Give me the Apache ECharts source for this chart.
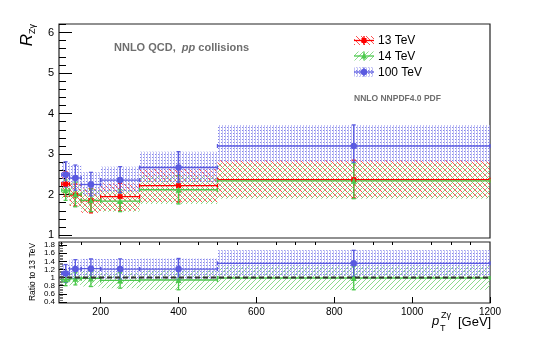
<!DOCTYPE html>
<html>
<head>
<meta charset="utf-8">
<script src="https://cdn.jsdelivr.net/npm/echarts@6/dist/echarts.min.js"></script>
<style>
html, body { margin: 0; padding: 0; background: #fff; }
#main { width: 545px; height: 346px; }
</style>
</head>
<body>
<div id="main"></div>
<script>
// pT bins [GeV]
var binLo = [100, 120, 150, 200, 300, 500];
var binHi = [120, 150, 200, 300, 500, 1200];
var binMid = [110, 135, 175, 250, 400, 850];

// R_Zgamma, NNLO
var r13 = [2.26, 1.99, 1.85, 1.95, 2.22, 2.37];
var r13Up = [0.30, 0.27, 0.30, 0.33, 0.42, 0.48];
var r13Dn = [0.30, 0.27, 0.30, 0.35, 0.40, 0.45];
var r14 = [2.11, 2.01, 1.86, 1.84, 2.12, 2.34];
var r14Up = [0.25, 0.30, 0.28, 0.28, 0.35, 0.44];
var r14Dn = [0.25, 0.31, 0.28, 0.26, 0.35, 0.44];
var r100 = [2.49, 2.41, 2.25, 2.36, 2.67, 3.20];
var r100Up = [0.32, 0.32, 0.30, 0.33, 0.39, 0.52];
var r100Dn = [0.30, 0.30, 0.28, 0.31, 0.36, 0.40];

// ratio to 13 TeV
var q14 = [0.95, 0.97, 0.98, 0.93, 0.94, 0.99];
var q14Err = [0.15, 0.15, 0.20, 0.19, 0.24, 0.29];
var q100 = [1.10, 1.21, 1.22, 1.21, 1.21, 1.35];
var q100Err = [0.22, 0.23, 0.24, 0.25, 0.26, 0.32];

// axis ticks
var xTicks = [200, 400, 600, 800, 1000, 1200];
var yTicksTop = [1, 2, 3, 4, 5, 6];
var yTicksRatio = [0.4, 0.6, 0.8, 1, 1.2, 1.4, 1.6, 1.8];

var xMin = 93, xMax = 1200;
var FONT = '"Liberation Sans", Arial, Helvetica, sans-serif';

var RED = '#ff0000', GREEN = '#4cc94c', BLUE = '#5a5ae0';

// minor ticks
var xMinor = [];
for (var v = 100; v < 1200; v += 50) if (v % 200 != 0) xMinor.push(v);
var yMinorTop = [];
for (var k = 5; k <= 31; k++) if (k % 5 != 0) yMinorTop.push(k / 5);
var yMinorRatio = [];
for (var k = 10; k <= 46; k++) if (k % 5 != 0) yMinorRatio.push(k / 25);

// hatch patterns
function hatch(color, dir) {
  var c = document.createElement('canvas');
  c.width = 5; c.height = 5;
  var g = c.getContext('2d');
  g.strokeStyle = color; g.lineWidth = 1;
  g.beginPath();
  if (dir > 0) {
    g.moveTo(0, 5); g.lineTo(5, 0);
    g.moveTo(-1, 1); g.lineTo(1, -1);
    g.moveTo(4, 6); g.lineTo(6, 4);
  } else {
    g.moveTo(0, 0); g.lineTo(5, 5);
    g.moveTo(4, -1); g.lineTo(6, 1);
    g.moveTo(-1, 4); g.lineTo(1, 6);
  }
  g.stroke();
  return { image: c, repeat: 'repeat' };
}
function dots() {
  var c = document.createElement('canvas');
  c.width = 3; c.height = 3;
  var g = c.getContext('2d');
  g.fillStyle = 'rgba(165,165,240,0.7)';
  g.fillRect(0, 0, 1, 3);
  g.fillStyle = 'rgba(100,100,230,0.8)';
  g.fillRect(2, 1, 1, 1);
  return { image: c, repeat: 'repeat' };
}
var patRed = hatch('rgba(255,50,50,0.85)', -1);
var patGreen = hatch('rgba(110,210,110,0.8)', 1);
var patBlue = dots();

function bandSeries(ax, val, up, dn, pat) {
  return {
    type: 'custom', xAxisIndex: ax, yAxisIndex: ax == 0 ? 0 : 2, silent: true,
    data: binLo.map(function (b, i) { return [binLo[i], binHi[i], val[i] - dn[i], val[i] + up[i]]; }),
    renderItem: function (params, api) {
      var p0 = api.coord([api.value(0), api.value(3)]);
      var p1 = api.coord([api.value(1), api.value(2)]);
      return { type: 'rect', shape: { x: p0[0], y: p0[1], width: p1[0] - p0[0], height: p1[1] - p0[1] }, style: { fill: pat } };
    }
  };
}

function errSeries(ax, val, up, dn, color) {
  return {
    type: 'custom', xAxisIndex: ax, yAxisIndex: ax == 0 ? 0 : 2, silent: true,
    data: binLo.map(function (b, i) { return [binLo[i], binHi[i], binMid[i], val[i], val[i] - dn[i], val[i] + up[i]]; }),
    renderItem: function (params, api) {
      var a = api.coord([api.value(0), api.value(3)]);
      var b = api.coord([api.value(1), api.value(3)]);
      var lo = api.coord([api.value(2), api.value(4)]);
      var hi = api.coord([api.value(2), api.value(5)]);
      var st = { stroke: color, lineWidth: 1.3 };
      function ln(x1, y1, x2, y2) { return { type: 'line', shape: { x1: x1, y1: y1, x2: x2, y2: y2 }, style: st }; }
      return {
        type: 'group', children: [
          ln(a[0], a[1], b[0], b[1]),
          ln(a[0], a[1] - 2, a[0], a[1] + 2),
          ln(b[0], b[1] - 2, b[0], b[1] + 2),
          ln(lo[0], lo[1], hi[0], hi[1]),
          ln(lo[0] - 2, lo[1], lo[0] + 2, lo[1]),
          ln(hi[0] - 2, hi[1], hi[0] + 2, hi[1])
        ]
      };
    }
  };
}

function markers(ax, val, symbol, size, color) {
  return {
    type: 'scatter', xAxisIndex: ax, yAxisIndex: ax == 0 ? 0 : 2, silent: true,
    symbol: symbol, symbolSize: size, itemStyle: { color: color, opacity: 1 },
    data: binMid.map(function (x, i) { return [x, val[i]]; })
  };
}

function plain(v) { return String(v); }

var myChart = echarts.init(document.getElementById('main'), null, { renderer: 'canvas' });

var option = {
  animation: false,
  backgroundColor: '#fff',
  grid: [
    { left: 59, top: 24, width: 431, height: 214, show: true, borderColor: '#222', borderWidth: 1.2, backgroundColor: 'transparent' },
    { left: 59, top: 242, width: 431, height: 61, show: true, borderColor: '#222', borderWidth: 1.2, backgroundColor: 'transparent' }
  ],
  xAxis: [
    { gridIndex: 0, type: 'value', min: xMin, max: xMax, axisLine: { show: false }, axisTick: { show: false }, axisLabel: { show: false }, splitLine: { show: false } },
    {
      gridIndex: 1, type: 'value', min: xMin, max: xMax, axisLine: { show: false }, splitLine: { show: false },
      axisTick: { inside: true, length: 6, customValues: xTicks, lineStyle: { color: '#000' } },
      axisLabel: { customValues: xTicks, formatter: plain, fontSize: 10, margin: 4, color: '#000', fontFamily: FONT }
    },
    {
      gridIndex: 1, type: 'value', min: xMin, max: xMax, axisLine: { show: false }, splitLine: { show: false },
      axisTick: { inside: true, length: 3, customValues: xMinor, lineStyle: { color: '#000' } },
      axisLabel: { show: false }
    }
  ],
  yAxis: [
    {
      gridIndex: 0, type: 'value', min: 0.93, max: 6.21, axisLine: { show: false }, splitLine: { show: false },
      axisTick: { inside: true, length: 13, customValues: yTicksTop, lineStyle: { color: '#000' } },
      axisLabel: { customValues: yTicksTop, formatter: plain, fontSize: 11, margin: 5, color: '#000', fontFamily: FONT }
    },
    {
      gridIndex: 0, type: 'value', position: 'left', min: 0.93, max: 6.21, axisLine: { show: false }, splitLine: { show: false },
      axisTick: { inside: true, length: 7, customValues: yMinorTop, lineStyle: { color: '#000' } },
      axisLabel: { show: false }
    },
    {
      gridIndex: 1, type: 'value', min: 0.375, max: 1.875, axisLine: { show: false }, splitLine: { show: false },
      axisTick: { inside: true, length: 8, customValues: yTicksRatio, lineStyle: { color: '#000' } },
      axisLabel: { customValues: yTicksRatio, formatter: plain, fontSize: 8, margin: 4, color: '#000', fontFamily: FONT }
    },
    {
      gridIndex: 1, type: 'value', position: 'left', min: 0.375, max: 1.875, axisLine: { show: false }, splitLine: { show: false },
      axisTick: { inside: true, length: 4, customValues: yMinorRatio, lineStyle: { color: '#777' } },
      axisLabel: { show: false }
    }
  ],
  series: [
    bandSeries(0, r13, r13Up, r13Dn, patRed),
    bandSeries(0, r14, r14Up, r14Dn, patGreen),
    bandSeries(0, r100, r100Up, r100Dn, patBlue),
    errSeries(0, r13, r13Up, r13Dn, RED),
    errSeries(0, r14, r14Up, r14Dn, GREEN),
    errSeries(0, r100, r100Up, r100Dn, BLUE),
    markers(0, r13, 'rect', 5, RED),
    markers(0, r14, 'triangle', 6, GREEN),
    markers(0, r100, 'circle', 6.5, BLUE),

    bandSeries(1, q14, q14Err, q14Err, patGreen),
    bandSeries(1, q100, q100Err, q100Err, patBlue),
    errSeries(1, q14, q14Err, q14Err, GREEN),
    errSeries(1, q100, q100Err, q100Err, BLUE),
    {
      type: 'line', xAxisIndex: 1, yAxisIndex: 2, silent: true, symbol: 'none',
      lineStyle: { color: '#333', width: 2, type: [5, 3] },
      data: [[xMin, 1], [xMax, 1]]
    },
    markers(1, q14, 'triangle', 6, GREEN),
    markers(1, q100, 'circle', 6.5, BLUE)
  ],
  graphic: [
    // y title
    { type: 'text', x: 27, y: 40, rotation: Math.PI / 2, style: { text: 'R', font: 'italic 17px ' + FONT, fill: '#000', align: 'center', verticalAlign: 'middle' } },
    { type: 'text', x: 33, y: 29, rotation: Math.PI / 2, style: { text: 'Zγ', font: '9px ' + FONT, fill: '#000', align: 'center', verticalAlign: 'middle' } },
    { type: 'text', x: 33, y: 272, rotation: Math.PI / 2, style: { text: 'Ratio to 13 TeV', font: '8.5px ' + FONT, fill: '#000', align: 'center', verticalAlign: 'middle' } },
    // x title
    { type: 'text', x: 432, y: 321, style: { text: 'p', font: 'italic 13px ' + FONT, fill: '#000', align: 'left', verticalAlign: 'middle' } },
    { type: 'text', x: 441, y: 316, style: { text: 'Zγ', font: '9px ' + FONT, fill: '#000', align: 'left', verticalAlign: 'middle' } },
    { type: 'text', x: 440, y: 329, style: { text: 'T', font: '9px ' + FONT, fill: '#000', align: 'left', verticalAlign: 'middle' } },
    { type: 'text', x: 458, y: 322, style: { text: '[GeV]', font: '13px ' + FONT, fill: '#000', align: 'left', verticalAlign: 'middle' } },
    // annotations
    {
      type: 'text', x: 114, y: 48, style: {
        text: '{a|NNLO QCD,  }{b|pp}{a| collisions}', verticalAlign: 'middle',
        rich: {
          a: { font: 'bold 11px ' + FONT, fill: '#6e6e6e' },
          b: { font: 'italic bold 11px ' + FONT, fill: '#6e6e6e' }
        }
      }
    },
    { type: 'text', x: 354, y: 99, style: { text: 'NNLO NNPDF4.0 PDF', font: 'bold 8.5px ' + FONT, fill: '#6e6e6e', verticalAlign: 'middle' } },
    // legend
    { type: 'rect', shape: { x: 354, y: 36, width: 20, height: 9 }, style: { fill: patRed } },
    { type: 'line', shape: { x1: 354, y1: 40.5, x2: 374, y2: 40.5 }, style: { stroke: RED, lineWidth: 1.3 } },
    { type: 'line', shape: { x1: 364, y1: 36, x2: 364, y2: 45 }, style: { stroke: RED, lineWidth: 1.3 } },
    { type: 'rect', shape: { x: 361.5, y: 38, width: 5, height: 5 }, style: { fill: RED } },
    { type: 'text', x: 378, y: 41, style: { text: '13 TeV', font: '12px ' + FONT, fill: '#000', verticalAlign: 'middle' } },

    { type: 'rect', shape: { x: 354, y: 51.5, width: 20, height: 9 }, style: { fill: patGreen } },
    { type: 'line', shape: { x1: 354, y1: 56, x2: 374, y2: 56 }, style: { stroke: GREEN, lineWidth: 1.3 } },
    { type: 'line', shape: { x1: 364, y1: 51.5, x2: 364, y2: 60.5 }, style: { stroke: GREEN, lineWidth: 1.3 } },
    { type: 'polygon', shape: { points: [[364, 53], [367, 58.5], [361, 58.5]] }, style: { fill: GREEN } },
    { type: 'text', x: 378, y: 56.5, style: { text: '14 TeV', font: '12px ' + FONT, fill: '#000', verticalAlign: 'middle' } },

    { type: 'rect', shape: { x: 354, y: 67.5, width: 20, height: 9 }, style: { fill: patBlue } },
    { type: 'line', shape: { x1: 354, y1: 72, x2: 374, y2: 72 }, style: { stroke: BLUE, lineWidth: 1.3 } },
    { type: 'line', shape: { x1: 364, y1: 67.5, x2: 364, y2: 76.5 }, style: { stroke: BLUE, lineWidth: 1.3 } },
    { type: 'circle', shape: { cx: 364, cy: 72, r: 3.2 }, style: { fill: BLUE } },
    { type: 'text', x: 378, y: 72.5, style: { text: '100 TeV', font: '12px ' + FONT, fill: '#000', verticalAlign: 'middle' } }
  ]
};

myChart.setOption(option);
</script>
</body>
</html>
